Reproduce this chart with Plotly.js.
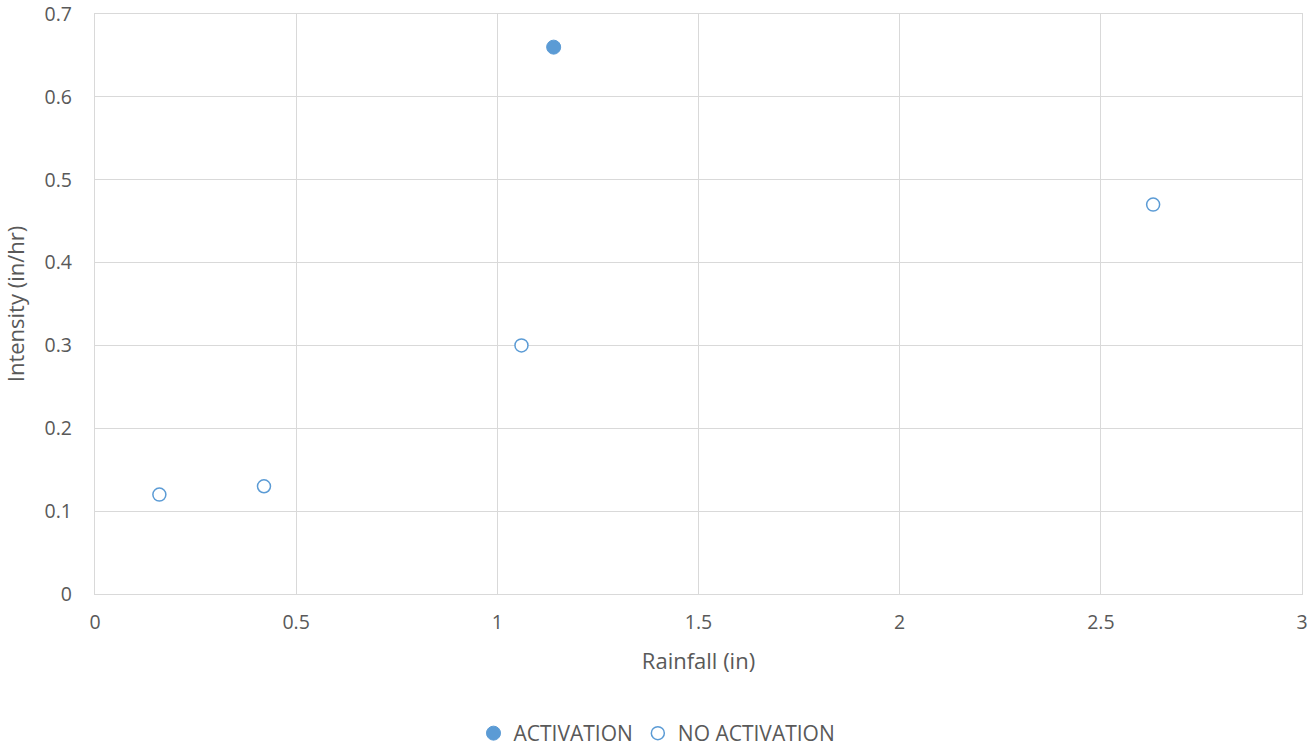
<!DOCTYPE html>
<html><head><meta charset="utf-8">
<script src="https://cdn.plot.ly/plotly-3.0.1.min.js"></script>
<style>html,body{margin:0;padding:0;background:#fff}#chart{width:1314px;height:750px}</style>
</head><body><div id="chart"></div>
<script>
const activationRain = [1.14];
const activationIntensity = [0.66];
const noActivationRain = [0.16, 0.42, 1.06, 2.63];
const noActivationIntensity = [0.12, 0.13, 0.30, 0.47];
const seriesNames = ["ACTIVATION", "NO ACTIVATION"];
const xTicks = [0, 0.5, 1, 1.5, 2, 2.5, 3];
const xTickLabels = ["0", "0.5", "1", "1.5", "2", "2.5", "3"];
const yTicks = [0, 0.1, 0.2, 0.3, 0.4, 0.5, 0.6, 0.7];
const yTickLabels = ["0", "0.1", "0.2", "0.3", "0.4", "0.5", "0.6", "0.7"];

const blue = "#5B9BD5";
const traces = [
  {x: activationRain, y: activationIntensity, name: seriesNames[0], type: "scatter", mode: "markers",
   marker: {size: 14, color: blue, line: {color: blue, width: 1}}},
  {x: noActivationRain, y: noActivationIntensity, name: seriesNames[1], type: "scatter", mode: "markers",
   marker: {size: 13, color: "#fff", line: {color: blue, width: 1.5}}}
];
const fam = "Open Sans, Liberation Sans, sans-serif";
const tickFont = {family: fam, size: 19.5, color: "#595959"};
const titleFont = {family: fam, size: 22, color: "#595959"};
const layout = {
  width: 1314, height: 750,
  margin: {l: 95, r: 12, t: 14, b: 156, autoexpand: false},
  paper_bgcolor: "#fff", plot_bgcolor: "#fff",
  font: tickFont,
  showlegend: true,
  legend: {orientation: "h", x: 0.5, xanchor: "center", xref: "container",
           y: 0.022, yanchor: "middle", yref: "container",
           font: {family: fam, size: 21, color: "#595959"}, traceorder: "normal", itemwidth: 30},
  xaxis: {range: [0, 3], tickmode: "array", tickvals: xTicks, ticktext: xTickLabels,
          showgrid: true, gridcolor: "#D9D9D9", gridwidth: 1.3,
          zeroline: false, showline: true, linecolor: "#D9D9D9", linewidth: 1.3, mirror: true,
          ticks: "outside", ticklen: 10, tickcolor: "rgba(0,0,0,0)", tickfont: tickFont,
          automargin: false, ticklabeloverflow: "allow",
          title: {text: "Rainfall (in)", font: titleFont, standoff: 20}},
  yaxis: {range: [0, 0.7], tickmode: "array", tickvals: yTicks, ticktext: yTickLabels,
          showgrid: true, gridcolor: "#D9D9D9", gridwidth: 1.3,
          zeroline: false, showline: true, linecolor: "#D9D9D9", linewidth: 1.3, mirror: true,
          ticks: "outside", ticklen: 18, tickcolor: "rgba(0,0,0,0)", tickfont: tickFont,
          automargin: false, ticklabeloverflow: "allow",
          title: {text: "Intensity (in/hr)", font: titleFont, standoff: 14}}
};
Plotly.newPlot("chart", traces, layout, {displayModeBar: false});
</script></body></html>
